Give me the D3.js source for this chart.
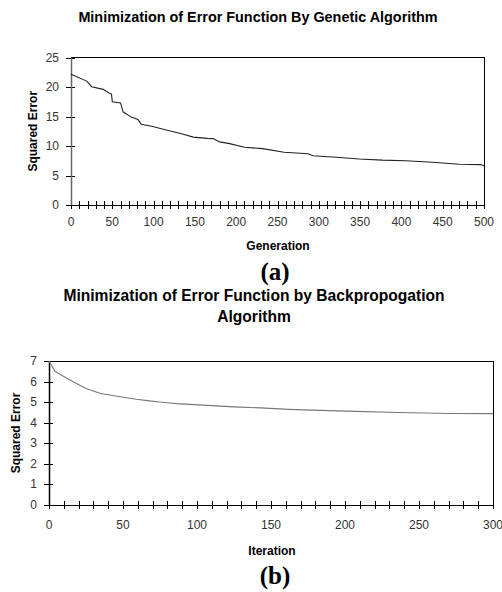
<!DOCTYPE html>
<html lang="en">
<head>
<meta charset="utf-8">
<title>Error Minimization</title>
<script src="https://d3js.org/d3.v7.min.js"></script>
<style>
body { margin: 0; background: #fff; }
svg { display: block; }
.tick-label { font-family: "Liberation Sans", Arial, sans-serif; font-size: 12px; fill: #333; }
.axis-title { font-family: "Liberation Sans", Arial, sans-serif; font-size: 12px; font-weight: bold; fill: #000; }
.chart-title { font-family: "Liberation Sans", Arial, sans-serif; font-weight: bold; fill: #000; }
.caption { font-family: "Liberation Serif", "Times New Roman", serif; font-size: 25px; font-weight: bold; fill: #000; }
</style>
</head>
<body>
<svg width="502" height="592"></svg>
<script>
// ---- data ----
var genX = [0, 19, 25, 39, 46, 49, 50, 60, 63, 73, 81, 85, 99, 107, 124, 136, 148, 165, 172, 180, 192, 210, 232, 258, 287, 293, 321, 349, 377, 405, 438, 470, 496, 500];
var genY = [22.15, 21.0, 20.05, 19.6, 19.0, 18.8, 17.5, 17.3, 15.8, 14.9, 14.5, 13.7, 13.3, 13.0, 12.4, 12.0, 11.5, 11.3, 11.25, 10.7, 10.4, 9.8, 9.55, 8.95, 8.7, 8.35, 8.1, 7.8, 7.6, 7.5, 7.25, 6.9, 6.85, 6.6];
var genTicks = [0, 50, 100, 150, 200, 250, 300, 350, 400, 450, 500];
var genYTicks = [0, 5, 10, 15, 20, 25];

var bpX = [0, 1, 4, 10, 16, 25, 35, 46, 59, 68, 73, 82, 86, 110, 125, 143, 162, 183, 207, 236, 271, 300];
var bpY = [7.0, 6.88, 6.5, 6.25, 6.0, 5.66, 5.42, 5.29, 5.14, 5.06, 5.02, 4.96, 4.93, 4.83, 4.77, 4.72, 4.65, 4.60, 4.55, 4.50, 4.45, 4.44];
var bpTicks = [0, 50, 100, 150, 200, 250, 300];
var bpYTicks = [0, 1, 2, 3, 4, 5, 6, 7];

var svg = d3.select("svg");

function drawChart(c) {
  var g = svg.append("g");
  var x = d3.scaleLinear().domain(c.xDomain).range([c.left, c.right]);
  var y = d3.scaleLinear().domain(c.yDomain).range([c.bottom, c.top]);

  // titles
  c.title.forEach(function(t, i) {
    g.append("text").attr("class", "chart-title")
      .attr("font-size", c.titleSize)
      .attr("x", c.titleX).attr("y", c.titleY + i * 21)
      .attr("text-anchor", "middle").text(t);
  });

  // frame: top and right border
  g.append("path")
    .attr("d", "M" + c.left + "," + c.top + "H" + c.right + "V" + c.bottom)
    .attr("fill", "none").attr("stroke", "#000").attr("stroke-width", 1)
    .attr("shape-rendering", "crispEdges");

  // minor ticks on x axis (crossing)
  var minor = d3.range(c.xDomain[0], c.xDomain[1] + 0.001, c.minorStep);
  g.selectAll(".xminor").data(minor).enter().append("line")
    .attr("x1", d => Math.round(x(d)) + 0.5).attr("x2", d => Math.round(x(d)) + 0.5)
    .attr("y1", c.bottom - 4).attr("y2", c.bottom + 4)
    .attr("stroke", "#000").attr("stroke-width", 1);

  // y ticks (crossing)
  g.selectAll(".yt").data(c.yTicks).enter().append("line")
    .attr("x1", c.left - 5).attr("x2", c.left + 4)
    .attr("y1", d => Math.round(y(d)) + 0.5).attr("y2", d => Math.round(y(d)) + 0.5)
    .attr("stroke", "#000").attr("stroke-width", 1);

  // axis lines
  g.append("line").attr("x1", c.left).attr("x2", c.right)
    .attr("y1", Math.round(c.bottom) + 0.5).attr("y2", Math.round(c.bottom) + 0.5)
    .attr("stroke", "#000");
  g.append("line").attr("x1", c.left + 0.5).attr("x2", c.left + 0.5)
    .attr("y1", c.top).attr("y2", c.bottom)
    .attr("stroke", c.yAxisColor).attr("stroke-width", 1.5);

  // tick labels
  g.selectAll(".xl").data(c.xTicks).enter().append("text")
    .attr("class", "tick-label").attr("text-anchor", "middle")
    .attr("x", d => x(d)).attr("y", c.bottom + c.xLabelDy).text(d => d);
  g.selectAll(".yl").data(c.yTicks).enter().append("text")
    .attr("class", "tick-label").attr("text-anchor", "end")
    .attr("x", c.left - 12).attr("y", d => y(d) + 4).text(d => d);

  // axis titles
  g.append("text").attr("class", "axis-title").attr("text-anchor", "middle")
    .attr("x", c.xTitleX).attr("y", c.xTitleY).text(c.xTitle);
  g.append("text").attr("class", "axis-title").attr("text-anchor", "middle")
    .attr("font-size", c.yTitleSize)
    .attr("transform", "translate(" + c.yTitleX + "," + ((c.top + c.bottom) / 2) + ") rotate(-90)")
    .text("Squared Error");

  // caption
  g.append("text").attr("class", "caption").attr("text-anchor", "middle")
    .attr("x", c.capX).attr("y", c.capY).text(c.caption);

  // the curve
  var line = d3.line().x(d => x(d[0])).y(d => y(d[1]));
  g.append("path").datum(d3.zip(c.xs, c.ys))
    .attr("d", line).attr("fill", "none")
    .attr("stroke", c.lineColor).attr("stroke-width", 1.1);
}

drawChart({
  xs: genX, ys: genY, xDomain: [0, 500], yDomain: [0, 25],
  xTicks: genTicks, yTicks: genYTicks, minorStep: 10,
  left: 71, right: 484, top: 57.5, bottom: 205,
  title: ["Minimization of Error Function By Genetic Algorithm"], titleX: 258, titleY: 22, titleSize: 14.4,
  xTitle: "Generation", xTitleX: 278, xTitleY: 250, yTitleX: 37, yTitleSize: 12,
  xLabelDy: 21, yAxisColor: "#666",
  caption: "(a)", capX: 275, capY: 280, lineColor: "#222"
});

drawChart({
  xs: bpX, ys: bpY, xDomain: [0, 300], yDomain: [0, 7],
  xTicks: bpTicks, yTicks: bpYTicks, minorStep: 10,
  left: 49, right: 493, top: 361, bottom: 505,
  title: ["Minimization of Error Function by Backpropogation", "Algorithm"], titleX: 254, titleY: 301, titleSize: 15.6,
  xTitle: "Iteration", xTitleX: 272, xTitleY: 555, yTitleX: 20, yTitleSize: 12.8,
  xLabelDy: 24, yAxisColor: "#000",
  caption: "(b)", capX: 275, capY: 584, lineColor: "#777"
});
</script>
</body>
</html>
